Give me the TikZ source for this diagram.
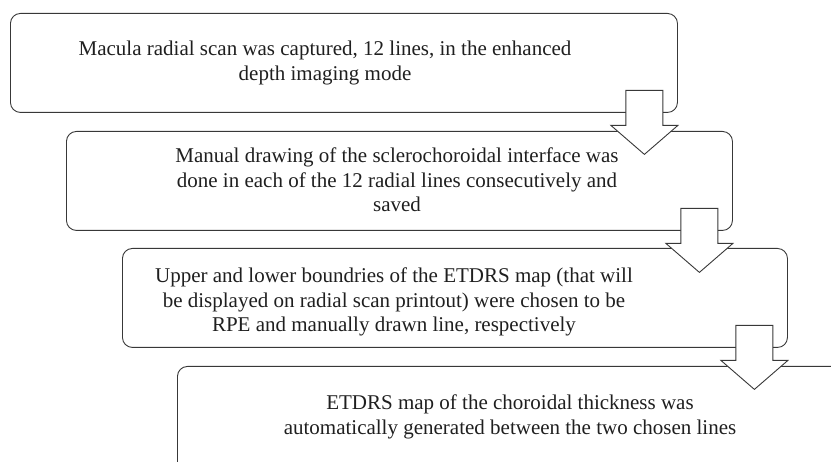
\documentclass[tikz,border=0pt]{standalone}
\usepackage{fontspec}
\setmainfont{Liberation Serif}
\usetikzlibrary{calc}
\begin{document}
\begin{tikzpicture}[x=1pt,y=-1pt,
  box/.style={draw=black!78, line width=0.9pt, rounded corners=10pt, rectangle, inner sep=0pt, anchor=north west},
  blockarrow/.style={draw=black!78, line width=0.9pt, fill=white, line join=miter},
  txt/.style={font=\fontsize{21}{24.5}\selectfont, align=center, text=black!88, inner sep=0pt},
  pics/downarrow/.style={code={
    \draw[blockarrow] (-18.5,-64) -- (18.5,-64) -- (18.5,-29) -- (33.5,-29) -- (0,0)
      -- (-33.5,-29) -- (-18.5,-29) -- cycle;}}]
\useasboundingbox (0,0) rectangle (831,462);
\clip (0,0) rectangle (831,462);

% boxes
\node[box, minimum width=667pt, minimum height=99pt] (b1) at (10,13) {};
\node[box, minimum width=666pt, minimum height=99pt] (b2) at (66,131) {};
\node[box, minimum width=665pt, minimum height=99pt] (b3) at (122,248) {};
\node[box, minimum width=800pt, minimum height=200pt] (b4) at (177,366) {};

% texts
\node[txt] (t1) at (325,63) {Macula radial scan was captured, 12 lines, in the enhanced\\depth imaging mode};
\node[txt] (t2) at (397,180) {Manual drawing of the sclerochoroidal interface was\\done in each of the 12 radial lines consecutively and\\saved};
\node[txt] (t3) at (394,302) {Upper and lower boundries of the ETDRS map (that will\\be displayed on radial scan printout) were chosen to be\\RPE and manually drawn line, respectively};
\node[txt] (t4) at (510,417) {ETDRS map of the choroidal thickness was\\automatically generated between the two chosen lines};

% block arrows
\coordinate (a1) at ($(b1.south east)+(-33.5,41.5)$);
\coordinate (a2) at ($(b2.south east)+(-33.5,41.5)$);
\coordinate (a3) at ($(b3.south east)+(-33.5,41.5)$);
\pic at (a1) {downarrow};
\pic at (a2) {downarrow};
\pic at (a3) {downarrow};
\end{tikzpicture}
\end{document}
